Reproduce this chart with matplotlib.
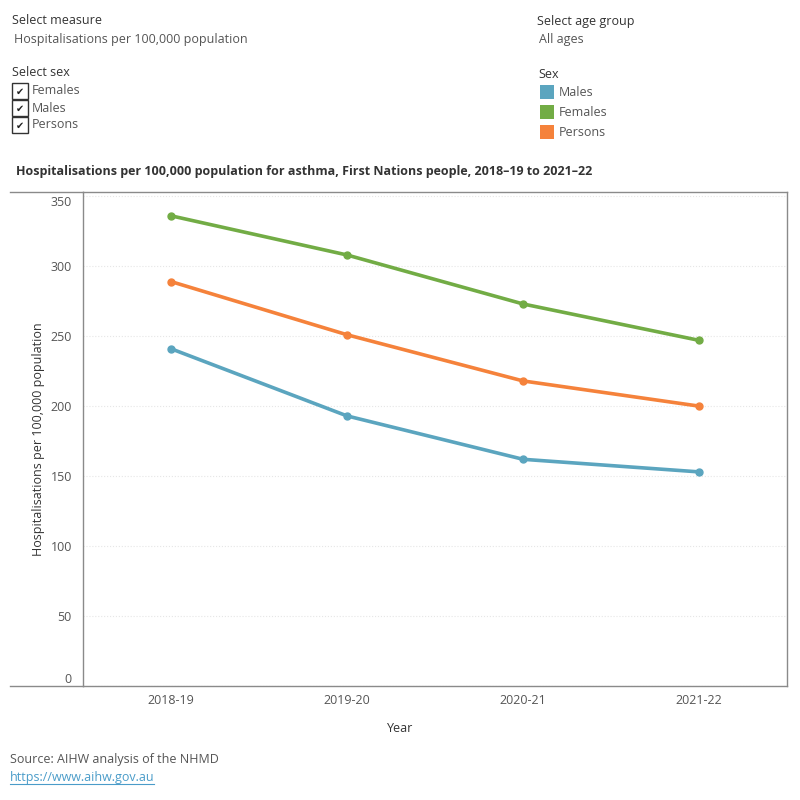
import matplotlib.pyplot as plt
from matplotlib.patches import Rectangle

years = ["2018-19", "2019-20", "2020-21", "2021-22"]
males = [241, 193, 162, 153]
females = [336, 308, 273, 247]
persons = [289, 251, 218, 200]

series = [("Males", males, "#5BA5BF"),
          ("Females", females, "#72AC45"),
          ("Persons", persons, "#F5823B")]
legend_order = ["Males", "Females", "Persons"]
filter_items = ["Females", "Males", "Persons"]

plt.rcParams['font.family'] = ['Open Sans', 'DejaVu Sans']

W, H = 800, 800
fig = plt.figure(figsize=(8, 8), dpi=100)

def fx(px):
    return px / W

def fy(py):
    return 1 - py / H

# plot area
ax = fig.add_axes([fx(83), fy(686), fx(787) - fx(83), fy(192) - fy(686)])
x = range(len(years))
for name, vals, col in series:
    ax.plot(x, vals, color=col, lw=2.6, marker='o', ms=5, solid_capstyle='round')

ax.set_xlim(-0.5, len(years) - 0.5)
ax.set_ylim(0, 353)
ax.set_yticks(range(0, 351, 50))
ax.set_xticks(list(x))
ax.set_xticklabels(years)
ax.tick_params(length=0, labelsize=9, colors='#555555')
ax.tick_params(axis='y', pad=8)
ax.tick_params(axis='x', pad=6)
# keep end labels inside the pane, as in the original
ylabs = ax.get_yticklabels()
ylabs[0].set_va('bottom')
ylabs[-1].set_va('top')
ax.grid(axis='y', color='#e6e6e6', ls=':', lw=0.8)
ax.set_axisbelow(True)
for s in ax.spines.values():
    s.set_color('#8a8a8a')
    s.set_linewidth(1)
ax.set_xlabel("Year", fontsize=9, color='#333333')
ax.xaxis.set_label_coords((400 - 83) / (787 - 83), -(728 - 686) / (686 - 192))
ax.xaxis.label.set_va('center')
ax.set_ylabel("Hospitalisations per 100,000 population", fontsize=9, color='#333333', labelpad=4)

# extend top and bottom border to the left edge like the original
fig.add_artist(plt.Line2D([fx(10), fx(83)], [fy(192), fy(192)], color='#8a8a8a', lw=1))
fig.add_artist(plt.Line2D([fx(10), fx(83)], [fy(686), fy(686)], color='#8a8a8a', lw=1))

# title
fig.text(fx(16), fy(172), "Hospitalisations per 100,000 population for asthma, First Nations people, 2018–19 to 2021–22",
         fontsize=9, fontweight='bold', color='#333333', va='center')

# controls
fig.text(fx(12), fy(21), "Select measure", fontsize=9, color='#333333', va='center')
fig.text(fx(14), fy(39), "Hospitalisations per 100,000 population", fontsize=9, color='#555555', va='center')
fig.text(fx(12), fy(73), "Select sex", fontsize=9, color='#333333', va='center')
for i, lab in enumerate(filter_items):
    top = 83 + i * 17
    fig.add_artist(Rectangle((fx(12), fy(top + 16)), fx(16), fy(0) - fy(16),
                             facecolor='white', edgecolor='#333333', lw=1))
    fig.text(fx(20), fy(top + 8.5), "✔", fontsize=7, color='#222222', ha='center', va='center',
             family=['DejaVu Sans'])
    fig.text(fx(32), fy(top + 8), lab, fontsize=9, color='#555555', va='center')

fig.text(fx(537), fy(21), "Select age group", fontsize=9, color='#333333', va='center')
fig.text(fx(539), fy(39), "All ages", fontsize=9, color='#555555', va='center')
fig.text(fx(538), fy(75), "Sex", fontsize=9, color='#333333', va='center')
colors = {n: c for n, _, c in series}
for i, lab in enumerate(legend_order):
    top = 85 + i * 20
    fig.add_artist(Rectangle((fx(540), fy(top + 14)), fx(14), fy(0) - fy(14),
                             facecolor=colors[lab], edgecolor='none'))
    fig.text(fx(559), fy(top + 7), lab, fontsize=9, color='#555555', va='center')

# footer
fig.text(fx(10), fy(760), "Source: AIHW analysis of the NHMD", fontsize=9, color='#555555', va='center')
fig.text(fx(10), fy(777), "https://www.aihw.gov.au", fontsize=9, color='#4A9CC9', va='center')
fig.add_artist(plt.Line2D([fx(10), fx(154)], [fy(784), fy(784)], color='#4A9CC9', lw=0.8))

fig.savefig("out.png", dpi=100, facecolor='white')
